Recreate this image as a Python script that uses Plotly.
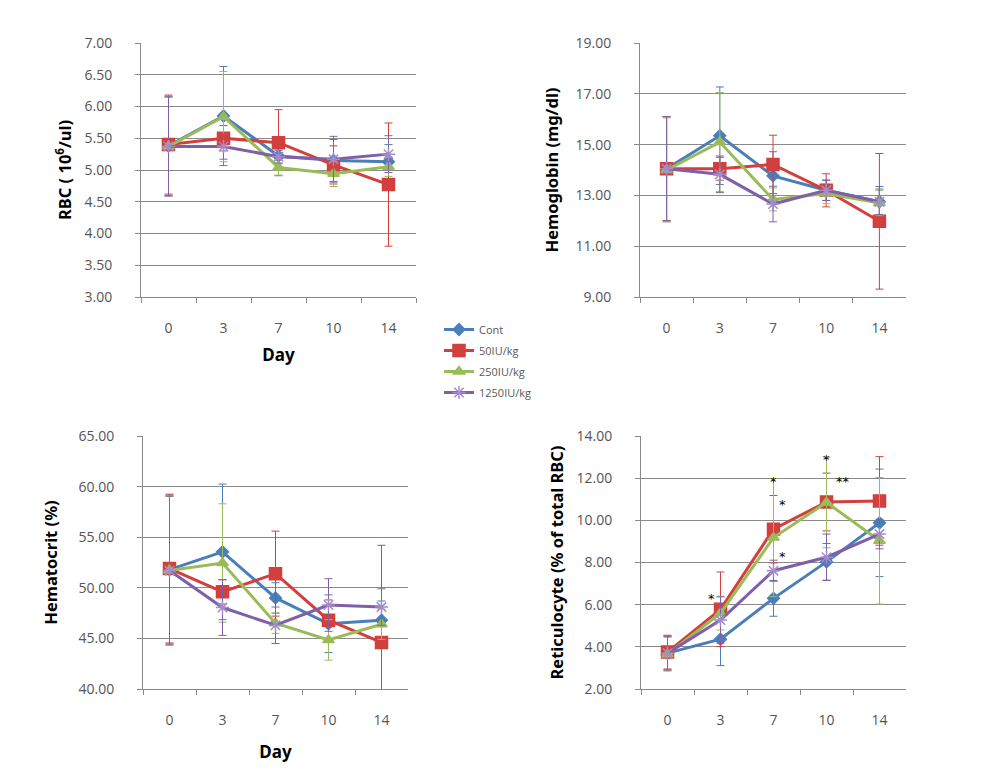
import plotly.graph_objects as go

days = ["0", "3", "7", "10", "14"]
series_names = ["Cont", "50IU/kg", "250IU/kg", "1250IU/kg"]

# RBC (10^6/ul)
rbc_cont = [5.38, 5.85, 5.22, 5.15, 5.13]
rbc_50 = [5.40, 5.50, 5.43, 5.08, 4.77]
rbc_250 = [5.37, 5.84, 5.04, 4.94, 5.05]
rbc_1250 = [5.37, 5.37, 5.21, 5.17, 5.25]
rbc_sd_cont = [0.78, 0.78, 0.12, 0.33, 0.27]
rbc_sd_50 = [0.78, 0.20, 0.52, 0.30, 0.97]
rbc_sd_250 = [0.78, 0.71, 0.12, 0.20, 0.15]
rbc_sd_1250 = [0.78, 0.20, 0.10, 0.36, 0.29]

# Hemoglobin (mg/dl)
hgb_cont = [14.05, 15.35, 13.77, 13.20, 12.75]
hgb_50 = [14.05, 14.05, 14.22, 13.20, 11.98]
hgb_250 = [14.00, 15.10, 12.84, 13.07, 12.70]
hgb_1250 = [14.05, 13.83, 12.66, 13.20, 12.75]
hgb_sd_cont = [2.05, 1.92, 0.95, 0.40, 0.60]
hgb_sd_50 = [2.05, 0.45, 1.15, 0.65, 2.67]
hgb_sd_250 = [2.05, 1.95, 0.45, 0.40, 0.50]
hgb_sd_1250 = [2.05, 0.72, 0.70, 0.40, 0.50]

# Hematocrit (%)
hct_cont = [51.8, 53.55, 49.0, 46.45, 46.8]
hct_50 = [51.9, 49.6, 51.4, 46.8, 44.6]
hct_250 = [51.7, 52.45, 46.5, 44.85, 46.4]
hct_1250 = [51.7, 48.05, 46.3, 48.3, 48.1]
hct_sd_cont = [7.35, 6.70, 1.50, 2.85, 1.90]
hct_sd_50 = [7.35, 1.20, 4.20, 2.00, 9.60]
hct_sd_250 = [7.35, 5.85, 1.00, 2.00, 1.50]
hct_sd_1250 = [7.35, 2.75, 1.80, 2.60, 1.80]

# Reticulocyte (% of total RBC)
ret_cont = [3.70, 4.36, 6.30, 8.03, 9.88]
ret_50 = [3.75, 5.78, 9.58, 10.87, 10.92]
ret_250 = [3.65, 5.60, 9.18, 10.85, 9.03]
ret_1250 = [3.70, 5.27, 7.61, 8.25, 9.35]
ret_sd_cont = [0.80, 1.25, 0.85, 0.87, 2.55]
ret_sd_50 = [0.80, 1.77, 1.60, 1.37, 2.10]
ret_sd_250 = [0.80, 0.80, 2.80, 2.15, 3.00]
ret_sd_1250 = [0.80, 1.10, 0.50, 1.10, 0.70]

# significance marks on reticulocyte panel
sig_days = ["3", "7", "7", "7", "10", "10"]
sig_vals = [6.45, 12.0, 10.9, 8.45, 13.05, 12.0]
sig_text = ["*", "*", "*", "*", "*", "**"]
sig_xshift = [-9, 0, 9, 9, 0, 16]

colors = ["#4A7EBB", "#D33F3C", "#9BBB59", "#7F5FA8"]
marker_colors = ["#4A7EBB", "#D33F3C", "#9BBB59", "#A48CCB"]
symbols = ["diamond", "square", "triangle-up", "asterisk-open"]
msizes = [9, 12, 10, 11]

panels = [
    ([rbc_cont, rbc_50, rbc_250, rbc_1250],
     [rbc_sd_cont, rbc_sd_50, rbc_sd_250, rbc_sd_1250]),
    ([hgb_cont, hgb_50, hgb_250, hgb_1250],
     [hgb_sd_cont, hgb_sd_50, hgb_sd_250, hgb_sd_1250]),
    ([hct_cont, hct_50, hct_250, hct_1250],
     [hct_sd_cont, hct_sd_50, hct_sd_250, hct_sd_1250]),
    ([ret_cont, ret_50, ret_250, ret_1250],
     [ret_sd_cont, ret_sd_50, ret_sd_250, ret_sd_1250]),
]

fig = go.Figure()
for p, (means, sds) in enumerate(panels):
    xa = "x" if p == 0 else f"x{p+1}"
    ya = "y" if p == 0 else f"y{p+1}"
    for i in range(4):
        fig.add_trace(go.Scatter(
            x=days, y=means[i], xaxis=xa, yaxis=ya,
            name=series_names[i], showlegend=(p == 0), legendgroup=series_names[i],
            mode="lines+markers",
            line=dict(color=colors[i], width=3),
            marker=dict(symbol=symbols[i], size=msizes[i], color=marker_colors[i],
                        line=dict(color=marker_colors[i], width=1.5)),
            error_y=dict(type="data", array=sds[i], color=colors[i],
                         thickness=1, width=4),
        ))

tick_font = dict(family="Open Sans, DejaVu Sans, sans-serif", size=14, color="#555555")
title_font = dict(family="Noto Sans, DejaVu Sans, sans-serif", size=16.5, color="#000000")
grid = "#8A8A8A"

W, H, OFF = 981, 778, 8


def xdom(a, b):
    return [(a - OFF) / W, (b - OFF) / W]


def ydom(top_px, bot_px):
    return [1 - (bot_px - OFF) / H, 1 - (top_px - OFF) / H]


def xaxis_cfg(domain, anchor, title=None, standoff=0):
    d = dict(domain=domain, anchor=anchor, type="category", range=[-0.5, 4.5],
             showline=True, linecolor=grid, linewidth=1, ticks="outside",
             tickson="boundaries", ticklen=5, tickcolor=grid, showgrid=False,
             tickfont=tick_font, ticklabelstandoff=18, zeroline=False, automargin=False)
    if title:
        d["title"] = dict(text="<b>" + title + "</b>",
                          font=dict(family="Noto Sans, DejaVu Sans, sans-serif", size=17, color="#000"),
                          standoff=standoff)
    return d


def yaxis_cfg(domain, anchor, rng, dtick, title, standoff):
    return dict(domain=domain, anchor=anchor, range=rng, dtick=dtick, tick0=rng[0],
                tickformat=".2f",
                showline=True, linecolor=grid, linewidth=1, ticks="outside", ticklen=5,
                tickcolor=grid, showgrid=True, gridcolor=grid, gridwidth=1,
                tickfont=tick_font, ticklabelstandoff=20, zeroline=False, automargin=False,
                title=dict(text="<b>" + title + "</b>", font=title_font, standoff=standoff))


top = ydom(43, 297)
bot = ydom(436, 689)

fig.update_layout(
    width=W, height=H,
    margin=dict(l=0, r=0, t=0, b=0, autoexpand=False),
    paper_bgcolor="white", plot_bgcolor="white",
    showlegend=True,
    legend=dict(x=(445 - OFF - 6) / W, y=1 - (331 - OFF - 16) / H, xanchor="left", yanchor="top",
                font=dict(family="Open Sans, DejaVu Sans, sans-serif", size=11, color="#595959"),
                bgcolor="rgba(0,0,0,0)", tracegroupgap=2, itemwidth=30),
    xaxis=xaxis_cfg(xdom(141, 416), "y", "Day", 13),
    yaxis=yaxis_cfg(top, "x", [3, 7], 0.5, "RBC ( 10<sup>6</sup>/ul)", 8),
    xaxis2=xaxis_cfg(xdom(640, 906), "y2"),
    yaxis2=yaxis_cfg(top, "x2", [9, 19], 2, "Hemoglobin (mg/dl)", 12),
    xaxis3=xaxis_cfg(xdom(143, 408), "y3", "Day", 18),
    yaxis3=yaxis_cfg(bot, "x3", [40, 65], 5, "Hematocrit (%)", 16),
    xaxis4=xaxis_cfg(xdom(641, 906), "y4"),
    yaxis4=yaxis_cfg(bot, "x4", [2, 14], 2, "Reticulocyte (% of total RBC)", 8),
)

for d, v, t, xs in zip(sig_days, sig_vals, sig_text, sig_xshift):
    fig.add_annotation(x=days.index(d), y=v, xref="x4", yref="y4", text=t, showarrow=False,
                       xshift=xs, yshift=-3,
                       font=dict(family="DejaVu Sans, sans-serif", size=13, color="#000"))

fig.write_html("out.html")
